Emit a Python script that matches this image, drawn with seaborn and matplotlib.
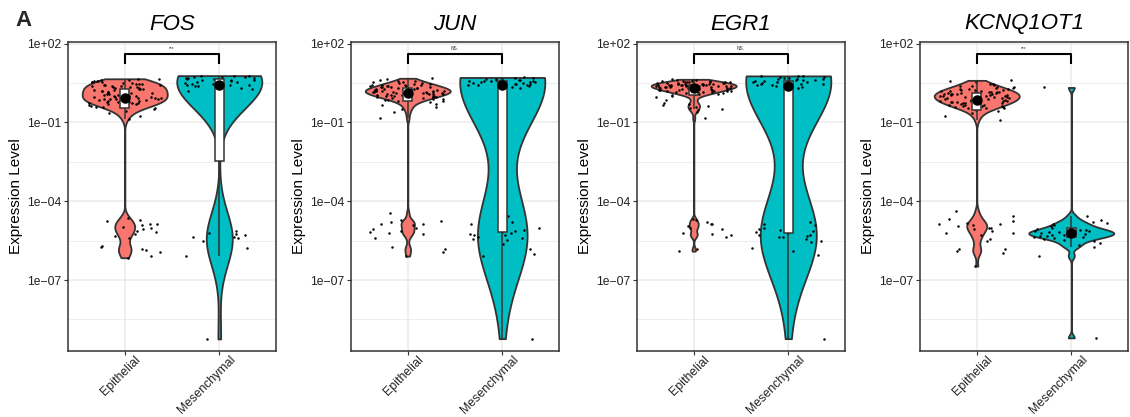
import numpy as np
import pandas as pd
import seaborn as sns
import matplotlib
matplotlib.use("Agg")
import matplotlib.pyplot as plt
import matplotlib.transforms as mtrans
from matplotlib.ticker import FixedLocator, FuncFormatter

# ---------------- data (log10 expression level) ----------------
genes = ["FOS", "JUN", "EGR1", "KCNQ1OT1"]
groups = ["Epithelial", "Mesenchymal"]
signif = ["***", "NS.", "NS.", "***"]
palette = {"Epithelial": "#F8766D", "Mesenchymal": "#00BFC4"}

FOS_epi = [-0.86, -0.74, -0.63, -0.55, -0.49, -0.45,
           -0.42, -0.40, -0.38, -0.37, -0.35, -0.33, -0.31, -0.30, -0.28, -0.27, -0.25, -0.24, -0.22,
           -0.21, -0.20, -0.18, -0.17, -0.16, -0.15, -0.13, -0.12, -0.11, -0.10, -0.10, -0.09, -0.08,
           -0.07, -0.05, -0.04, -0.02, -0.01, 0.01, 0.02, 0.04, 0.05, 0.06, 0.08, 0.09, 0.11, 0.12,
           0.13, 0.15, 0.16, 0.18, 0.19, 0.20, 0.22, 0.23, 0.24, 0.25, 0.26, 0.27,
           0.29, 0.30, 0.32, 0.33, 0.34, 0.36, 0.37, 0.38, 0.40, 0.41, 0.42, 0.44, 0.45, 0.46, 0.48,
           0.49, 0.51, 0.52, 0.54, 0.55, 0.56, 0.58, 0.59, 0.61, 0.62, 0.64, 0.66,
           -4.62, -4.70, -4.76, -4.85, -4.88, -4.92, -4.97, -5.02, -5.06, -5.12, -5.19, -5.25,
           -5.33, -5.41, -5.70, -5.76, -5.80, -5.86, -5.93, -6.08, -6.15]
FOS_mes = [0.20, 0.24, 0.27, 0.30, 0.33, 0.35, 0.37, 0.40, 0.42, 0.43,
           0.44, 0.46, 0.48, 0.50, 0.52, 0.54, 0.56, 0.58, 0.60, 0.62,
           0.63, 0.65, 0.66, 0.68, 0.69, 0.70, 0.71, 0.72, 0.73, 0.75, 0.76, 0.78,
           -9.24, -6.09, -5.78, -5.52, -5.41, -5.37, -5.37, -5.30, -5.25, -5.21, -5.14]
JUN_epi = [-0.85, -0.62, -0.50, -0.42, -0.35, -0.29, -0.24, -0.20,
           -0.17, -0.15, -0.13, -0.12, -0.10, -0.09, -0.07, -0.06, -0.05, -0.03, -0.02, -0.01, 0.00,
           0.01, 0.02, 0.03, 0.04, 0.05, 0.06, 0.07, 0.08, 0.09, 0.09, 0.10, 0.11,
           0.12, 0.12, 0.13, 0.14, 0.14, 0.15, 0.16, 0.17, 0.17, 0.18, 0.19, 0.19, 0.20, 0.21, 0.21,
           0.22, 0.23, 0.23, 0.24, 0.25, 0.25, 0.26, 0.27, 0.27, 0.28,
           0.29, 0.30, 0.31, 0.32, 0.33, 0.34, 0.35, 0.36, 0.37, 0.38, 0.39, 0.40, 0.41, 0.42, 0.43,
           0.44, 0.46, 0.47, 0.49, 0.50, 0.52, 0.54, 0.56, 0.58, 0.61, 0.64, 0.68,
           -4.45, -4.72, -4.76, -4.80, -4.85, -4.87, -4.92, -5.00, -5.05, -5.13, -5.17, -5.20,
           -5.23, -5.39, -5.75, -5.81, -5.95, -6.09]
JUN_mes = [0.30, 0.33, 0.36, 0.39, 0.41, 0.43,
           0.44, 0.45, 0.46, 0.47, 0.48, 0.49, 0.50, 0.51, 0.52, 0.53, 0.54, 0.55,
           0.56, 0.57, 0.58, 0.59, 0.60, 0.61, 0.62, 0.63, 0.64, 0.65, 0.66, 0.68, 0.69, 0.71,
           -9.23, -6.09, -6.00, -5.80, -5.62, -5.48, -5.45, -5.39, -5.35, -5.30, -5.28, -5.25,
           -5.20, -5.17, -5.13, -5.10, -5.02, -4.87, -4.80, -4.55]
EGR1_epi = [-0.85, -0.60, -0.52, -0.48, -0.45, -0.40, -0.36, -0.33, -0.30, -0.25, -0.15, -0.05, 0.02,
            0.06, 0.07, 0.09, 0.10, 0.11, 0.12, 0.13, 0.14, 0.15, 0.16, 0.17, 0.18, 0.19, 0.20,
            0.21, 0.21, 0.22, 0.23, 0.24, 0.25, 0.25, 0.26, 0.27, 0.28, 0.28, 0.29, 0.30,
            0.30, 0.31, 0.31, 0.32, 0.32, 0.33, 0.33, 0.34, 0.34, 0.35, 0.35, 0.36, 0.36, 0.37,
            0.37, 0.38, 0.38, 0.39, 0.39, 0.40, 0.40, 0.41, 0.41, 0.42, 0.42, 0.43, 0.43,
            0.44, 0.44, 0.45, 0.45, 0.46, 0.46, 0.47, 0.47, 0.48, 0.49, 0.49, 0.50, 0.50, 0.51,
            0.52, 0.52, 0.53, 0.54, 0.55, 0.55, 0.56, 0.57, 0.58, 0.59, 0.60, 0.61, 0.62, 0.64,
            -4.68, -4.72, -4.80, -4.87, -4.87, -4.95, -5.00, -5.05, -5.20, -5.25, -5.30, -5.35,
            -5.81, -5.90]
EGR1_mes = [0.30, 0.33, 0.36, 0.38,
            0.39, 0.41, 0.43, 0.45, 0.47, 0.48, 0.50, 0.52, 0.53, 0.55, 0.56, 0.57,
            0.58, 0.60, 0.61, 0.63, 0.64, 0.66, 0.67, 0.69, 0.70, 0.72, 0.73, 0.75, 0.76, 0.77,
            -9.23, -6.05, -5.90, -5.77, -5.55, -5.50, -5.42, -5.37, -5.35, -5.32, -5.30, -5.27,
            -5.22, -5.18, -5.15, -5.10, -5.05, -5.00, -4.90, -4.87, -4.80]
KCN_epi = [-0.90, -0.75, -0.66, -0.58, -0.52,
           -0.47, -0.45, -0.44, -0.42, -0.41, -0.39, -0.38, -0.36, -0.35, -0.33, -0.32, -0.30, -0.29,
           -0.28, -0.26, -0.25, -0.24, -0.22, -0.21, -0.20, -0.19, -0.18, -0.17, -0.16, -0.15, -0.14,
           -0.13, -0.12, -0.11, -0.10, -0.09, -0.08, -0.07, -0.06, -0.05, -0.04, -0.03, -0.02, -0.01,
           0.00, 0.01, 0.02, 0.03, 0.04, 0.05, 0.06, 0.07, 0.08, 0.09, 0.10, 0.10, 0.11,
           0.12, 0.13, 0.14, 0.15, 0.16, 0.17, 0.18, 0.19, 0.20, 0.21, 0.22, 0.24, 0.25, 0.26,
           0.28, 0.29, 0.31, 0.32, 0.34, 0.36, 0.38, 0.40, 0.42, 0.45, 0.48, 0.52, 0.56, 0.60,
           -4.38, -4.57, -4.68, -4.75, -4.82, -4.87, -4.87, -4.90, -4.95, -5.00, -5.00, -5.05,
           -5.12, -5.20, -5.20, -5.30, -5.43, -5.50, -5.81, -5.83, -5.90, -5.97, -6.47]
KCN_mes = [0.33, -9.20, -6.08,
           -5.75, -5.68, -5.60, -5.52, -5.46, -5.42, -5.39, -5.37, -5.35, -5.33, -5.31, -5.29,
           -5.27, -5.25, -5.23, -5.21, -5.20, -5.19, -5.17, -5.15, -5.13, -5.11, -5.09, -5.06,
           -5.04, -5.00, -4.96, -4.92, -4.87, -4.83, -4.78, -4.70, -4.55]

values = {
    "FOS": {"Epithelial": FOS_epi, "Mesenchymal": FOS_mes},
    "JUN": {"Epithelial": JUN_epi, "Mesenchymal": JUN_mes},
    "EGR1": {"Epithelial": EGR1_epi, "Mesenchymal": EGR1_mes},
    "KCNQ1OT1": {"Epithelial": KCN_epi, "Mesenchymal": KCN_mes},
}
# smoothing multipliers on the R-style nrd0 bandwidth
bw_adj = {("JUN", "Mesenchymal"): 1.35, ("EGR1", "Mesenchymal"): 1.3}

rows = []
for gene in genes:
    for grp in groups:
        for v in values[gene][grp]:
            rows.append((gene, grp, v))
df = pd.DataFrame(rows, columns=["gene", "group", "val"])


def nrd0(kde):
    x = np.asarray(kde.dataset).ravel()
    sd = x.std(ddof=1)
    q75, q25 = np.percentile(x, [75, 25])
    lo = min(sd, (q75 - q25) / 1.34)
    return 0.9 * lo * len(x) ** -0.2 / sd


# ---------------- figure ----------------
sns.set_style("white")
plt.rcParams["font.family"] = ["Liberation Sans", "DejaVu Sans"]
np.random.seed(3)

W, H = 1130, 417
fig = plt.figure(figsize=(W / 100, H / 100), dpi=100)
lefts = [68, 351, 637, 920]
pw, top_px, bot_px = 208, 42, 351
dark = "#333333"

major = [2, -1, -4, -7]
minor = [0.5, -2.5, -5.5, -8.5]

for i, gene in enumerate(genes):
    ax = fig.add_axes([lefts[i] / W, (H - bot_px) / H, pw / W, (bot_px - top_px) / H])
    sub = df[df.gene == gene]
    for grp in groups:
        g = sub[sub.group == grp]
        sns.violinplot(data=g, x="group", y="val", order=groups, hue="group",
                       hue_order=groups, palette=palette, saturation=1,
                       density_norm="width", cut=0, inner=None, width=0.9,
                       bw_method=nrd0, bw_adjust=bw_adj.get((gene, grp), 1.0),
                       gridsize=400, linewidth=1.3, linecolor=dark,
                       legend=False, ax=ax)
    sns.stripplot(data=sub, x="group", y="val", order=groups, color="black",
                  size=1.8, jitter=0.4, linewidth=0, ax=ax, zorder=3)
    sns.boxplot(data=sub, x="group", y="val", order=groups, width=0.1,
                color="white", linecolor=dark, linewidth=1.1, saturation=1,
                showfliers=False, showcaps=False, whis=1.5, ax=ax, zorder=4)
    sns.pointplot(data=sub, x="group", y="val", order=groups, estimator="median",
                  errorbar=None, color="black", markers="o", linestyle="none",
                  markersize=5.5, ax=ax, zorder=5)

    # significance bracket
    ax.plot([0, 0, 1, 1], [1.24, 1.59, 1.59, 1.24], color="black", lw=1.5,
            solid_capstyle="butt", zorder=6)
    ax.text(0.5, 1.72, signif[i], ha="center", va="bottom", fontsize=3.5, color="#333333")

    ax.set_xlim(-0.6, 1.6)
    ax.set_ylim(-9.7, 2.06)
    ax.yaxis.set_major_locator(FixedLocator(major))
    ax.yaxis.set_minor_locator(FixedLocator(minor))
    ax.yaxis.set_major_formatter(FuncFormatter(
        lambda v, p: "1e" + ("+" if v >= 0 else "\u2212") + "%02d" % abs(int(round(v)))))
    ax.set_axisbelow(True)
    ax.grid(which="major", axis="both", color="#EBEBEB", lw=1.1)
    ax.grid(which="minor", axis="y", color="#EBEBEB", lw=0.6)
    ax.tick_params(axis="y", which="major", length=3, width=0.8, color=dark,
                   pad=1.5, labelsize=8.7, labelcolor="#222222", left=True)
    ax.tick_params(axis="y", which="minor", length=0)
    ax.tick_params(axis="x", length=3, width=0.8, color=dark, bottom=True,
                   pad=2, labelsize=8.9, labelcolor="#222222")
    ax.set_xticks([0, 1])
    ax.set_xticklabels(groups, rotation=45, ha="right", va="top", rotation_mode="anchor")
    off = mtrans.ScaledTranslation(10 / 100, 4.5 / 100, fig.dpi_scale_trans)
    for lab in ax.get_xticklabels():
        lab.set_transform(lab.get_transform() + off)
    for s in ax.spines.values():
        s.set_color(dark)
        s.set_linewidth(1.1)
    ax.set_xlabel("")
    ax.set_ylabel("Expression Level", fontsize=11, color="black")
    ax.yaxis.set_label_coords(-0.215, 0.5)
    ax.set_title(gene, fontstyle="italic", fontsize=16, pad=9, color="black")

fig.text(15 / W, (H - 26) / H, "A", fontsize=16, fontweight="bold", ha="left", va="baseline")
fig.savefig("out.png", dpi=100)
